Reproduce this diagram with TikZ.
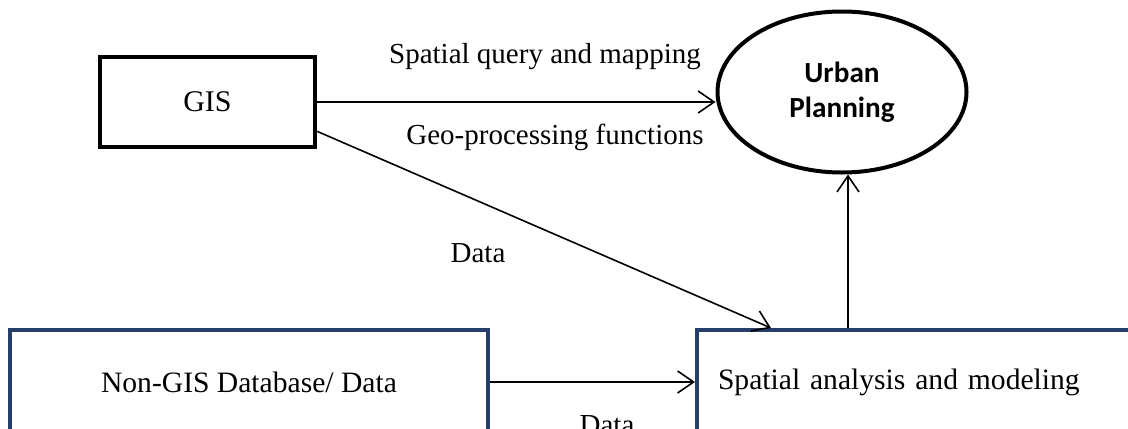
\documentclass[tikz,border=0pt]{standalone}
\usepackage{fontspec}
\setmainfont{Liberation Serif}
\newfontfamily\calib{Carlito}
\usetikzlibrary{arrows.meta,positioning,calc,shapes.geometric}
\definecolor{boxblue}{HTML}{263F6A}

\begin{document}
\begin{tikzpicture}[x=0.5pt,y=-0.5pt,
  conn/.style={line width=0.8pt,-{Straight Barb[length=8pt,width=11pt]}},
  blkbox/.style={draw,line width=2.3pt,rectangle,inner sep=0pt,font=\fontsize{15}{17}\selectfont},
  bluebox/.style={draw=boxblue,line width=2pt,rectangle,inner sep=0pt,font=\fontsize{14.8}{17}\selectfont},
  lbl/.style={font=\fontsize{14.5}{17}\selectfont,inner sep=0pt}]
  \useasboundingbox (0,0) rectangle (1128,428);
  \clip (0,0) rectangle (1128,428);

  % boxes
  \node[blkbox,minimum width=107.5pt,minimum height=45pt] (gis) at (207.5,102) {GIS};
  \node[ellipse,draw,line width=2pt,minimum width=124.5pt,minimum height=80.5pt,inner sep=0pt,
        align=center,font=\calib\bfseries\fontsize{14.6}{17.5}\selectfont] (urban) at (842,92) {Urban\\Planning};
  \node[bluebox,minimum width=239pt,minimum height=52pt] (nongis) at (249,382) {Non-GIS Database/ Data};
  \node[bluebox,minimum height=52pt,text width=200.5pt,inner xsep=10.5pt,align=left] (spatial) at (918.5,382) {Spatial analysis and modeling};

  % connectors
  \draw[conn] (gis) -- (gis -| urban.west);
  \draw[conn] (gis.-15.5) -- ($(spatial.north west)+(76,0)$);
  \draw[conn] (nongis) -- (nongis -| spatial.west);
  \coordinate (up) at ($(spatial.north west)+(153,0)$);
  \draw[conn] (up) -- (up |- urban.south);

  % labels
  \node[lbl] (qry) at (545,57) {Spatial query and mapping};
  \node[lbl] (geo) at (555,137) {Geo-processing functions};
  \node[lbl] (data1) at (478,253) {Data};
  \node[lbl] (data2) at (607,425) {Data};
\end{tikzpicture}
\end{document}
